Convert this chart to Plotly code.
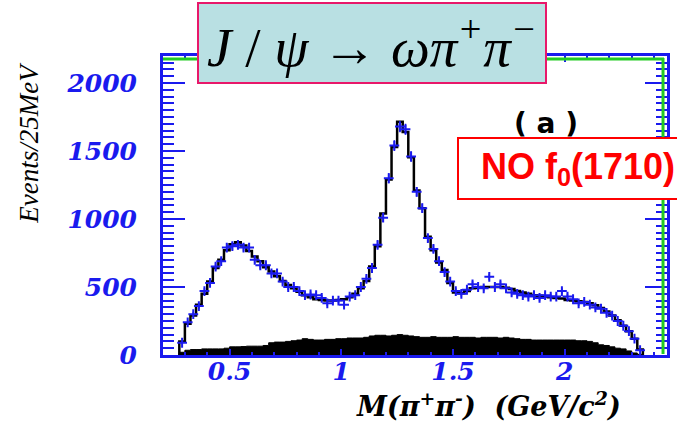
import plotly.graph_objects as go

# ---- data ----
bin_start = 0.275
bin_width = 0.025
fit_counts = [100, 230, 290, 370, 450, 540, 640, 700, 770, 815,
              830, 805, 765, 725, 690, 645, 615, 580, 545, 515,
              490, 465, 440, 425, 410, 405, 400, 400, 405, 410,
              425, 450, 490, 545, 650, 800, 1040, 1290, 1530, 1715,
              1640, 1455, 1210, 1080, 870, 770, 680, 625, 530, 460,
              455, 470, 490, 495, 500, 500, 500, 500, 495, 485,
              470, 460, 450, 440, 435, 430, 425, 420, 415, 405,
              400, 395, 390, 380, 365, 345, 320, 290, 255, 215,
              175, 120, 40]
data_counts = [90, 240, 300, 360, 470, 530, 650, 690, 790, 800,
               810, 790, 790, 700, 660, 660, 600, 600, 540, 500,
               500, 470, 440, 445, 440, 420, 380, 400, 400, 370,
               430, 440, 500, 560, 640, 810, 1010, 1300, 1540, 1680,
               1660, 1460, 1200, 1080, 860, 780, 690, 610, 540, 470,
               450, 480, 520, 500, 490, 575, 500, 520, 490, 460,
               450, 440, 430, 440, 420, 440, 430, 430, 470, 430,
               410, 380, 390, 370, 350, 340, 310, 290, 250, 215,
               175, 120, 35]
bkg_counts = [20, 35, 40, 40, 45, 45, 45, 45, 50, 60,
              60, 62, 65, 65, 65, 70, 90, 95, 95, 100,
              105, 110, 120, 115, 110, 110, 115, 115, 120, 120,
              125, 125, 125, 130, 140, 145, 145, 140, 145, 150,
              145, 140, 135, 130, 130, 135, 130, 130, 130, 135,
              130, 130, 130, 125, 130, 130, 130, 125, 130, 125,
              120, 115, 115, 110, 110, 110, 110, 110, 110, 110,
              110, 105, 105, 100, 90, 75, 70, 60, 50, 45,
              30, 15, 5]
x_ticks = [0.5, 1, 1.5, 2]
x_tick_labels = ["0.5", "1", "1.5", "2"]
y_ticks = [0, 500, 1000, 1500, 2000]
y_tick_labels = ["0", "500", "1000", "1500", "2000"]

n = len(fit_counts)
edges = [bin_start + bin_width * i for i in range(n + 1)]
centers = [bin_start + bin_width * (i + 0.5) for i in range(n)]

BLUE = "#1a1aee"

fig = go.Figure()

# background (black band)
fig.add_trace(go.Scatter(
    x=[edges[0]] + edges, y=[0] + bkg_counts + [bkg_counts[-1]],
    mode="lines", line=dict(shape="hv", color="black", width=1),
    fill="tozeroy", fillcolor="black", hoverinfo="skip", showlegend=False))

# fit histogram
fig.add_trace(go.Scatter(
    x=[edges[0]] + edges + [edges[-1]],
    y=[0] + fit_counts + [fit_counts[-1], 0],
    mode="lines", line=dict(shape="hv", color="black", width=2.5),
    showlegend=False))

# data points
errs = [max(8, v ** 0.5) for v in data_counts]
fig.add_trace(go.Scatter(
    x=centers, y=data_counts, mode="markers",
    marker=dict(symbol="cross-thin", size=7, line=dict(color=BLUE, width=2), color=BLUE),
    error_y=dict(type="data", array=errs, color=BLUE, thickness=1.5, width=0),
    showlegend=False))

W, H = 677, 422
L, R, T, B = 163, 7, 56, 67
pw, ph = W - L - R, H - T - B

def px(x):
    return (x - L) / pw

def py(y):
    return (H - B - y) / ph

tickfont = dict(family="DejaVu Serif", size=25, color=BLUE, weight="bold", style="italic")

fig.update_layout(
    width=W, height=H,
    margin=dict(l=L, r=R, t=T, b=B),
    paper_bgcolor="white", plot_bgcolor="white",
    xaxis=dict(range=[0.202, 2.458], showgrid=False, zeroline=False,
               tickvals=x_ticks, ticktext=x_tick_labels,
               ticks="inside", ticklen=6, tickwidth=2, tickcolor=BLUE,
               showline=True, linecolor=BLUE, linewidth=3, mirror="ticks",
               tickfont=tickfont, ticklabelstandoff=-8,
               minor=dict(dtick=0.1, ticks="inside", ticklen=3, tickcolor=BLUE, tickwidth=2)),
    yaxis=dict(range=[0, 2199], showgrid=False, zeroline=False,
               tickvals=y_ticks, ticktext=y_tick_labels,
               ticks="inside", ticklen=22, tickwidth=2, tickcolor=BLUE,
               showline=True, linecolor=BLUE, linewidth=3, mirror="ticks",
               tickfont=tickfont, ticklabelstandoff=18,
               minor=dict(dtick=50, ticks="inside", ticklen=11, tickcolor=BLUE, tickwidth=2)),
)

# green inner lines (top and right)
fig.add_shape(type="line", xref="paper", yref="paper",
              x0=0, x1=px(667), y0=py(59), y1=py(59),
              line=dict(color="#22cc22", width=3))
fig.add_shape(type="line", xref="paper", yref="paper",
              x0=px(666), x1=px(666), y0=py(354), y1=py(58),
              line=dict(color="#22cc22", width=3))

def note(x, y, text, **kw):
    fig.add_annotation(xref="paper", yref="paper", x=px(x), y=py(y),
                       xanchor=kw.pop("xanchor", "center"), yanchor="middle",
                       text=text, showarrow=False, **kw)

# axis titles
note(28, 143, "<i>Events/25MeV</i>", textangle=-90,
     font=dict(family="Liberation Serif", size=27, color="black"))
note(490, 405, "<b><i>M(π<sup>+</sup>π<sup>-</sup>)  (GeV/c<sup>2</sup>)</i></b>",
     font=dict(family="DejaVu Serif", size=27, color="black"))

# (a)
note(548, 124, "( a )", font=dict(family="DejaVu Sans", size=28, color="black", weight="bold"))

# title box
note(373, 43, "<i>J</i> / <i>ψ</i> → <i>ωπ<sup>+</sup>π<sup>−</sup></i>",
     width=346, height=78,
     bgcolor="#b9e0e3", bordercolor="#e8186a", borderwidth=2, borderpad=0,
     font=dict(family="Liberation Serif", size=55, color="black"))

# NO f0(1710) box
note(459, 168.5, "<b>NO f<sub>0</sub>(1710)</b>", xanchor="left",
     width=238, height=59, align="center",
     bgcolor="white", bordercolor="#ff0000", borderwidth=2, borderpad=0,
     font=dict(family="Liberation Sans", size=36, color="#ff0000"))

fig.write_html("out.html")
